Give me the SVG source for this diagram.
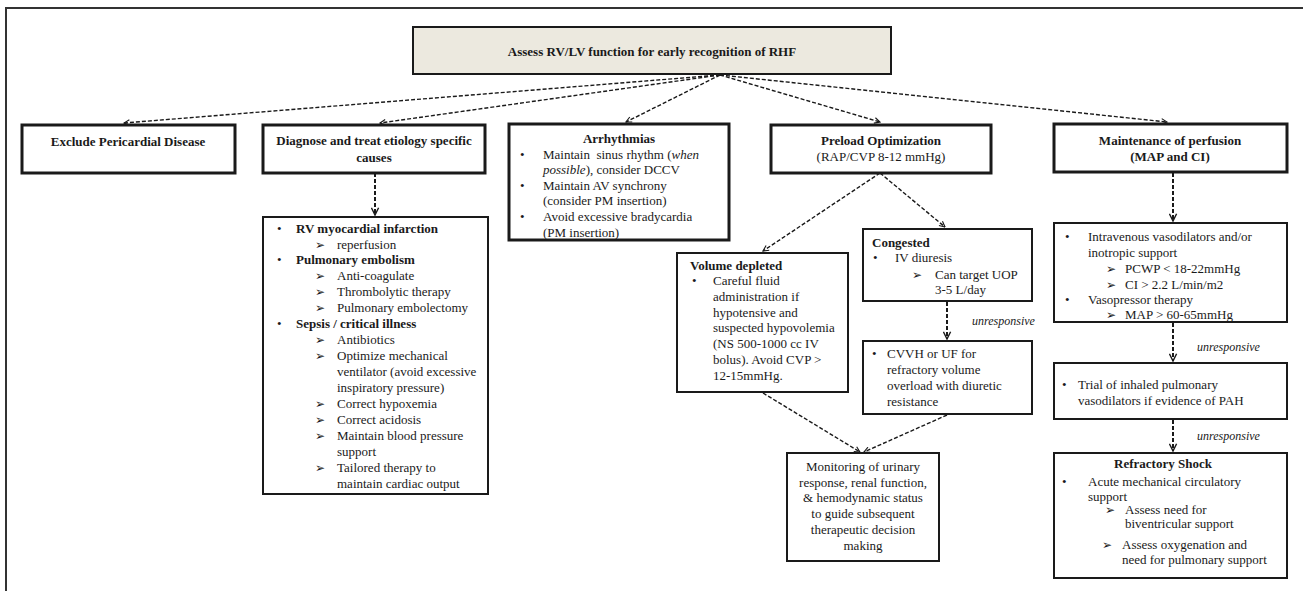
<svg xmlns="http://www.w3.org/2000/svg" width="1303" height="591" viewBox="0 0 1303 591">
  <defs>
    <marker id="chev" viewBox="0 0 10 10" refX="9" refY="5" markerWidth="7" markerHeight="7" markerUnits="userSpaceOnUse" orient="auto">
      <path d="M1,1 L9,5 L1,9" fill="none" stroke="#1a1a1a" stroke-width="1.6"/>
    </marker>
    <marker id="chevB" viewBox="0 0 10 10" refX="9" refY="5" markerWidth="9" markerHeight="9" markerUnits="userSpaceOnUse" orient="auto">
      <path d="M1,1 L9,5 L1,9" fill="none" stroke="#1a1a1a" stroke-width="1.6"/>
    </marker>
  </defs>
  <style>
    text { font-family: "Liberation Serif", "Times New Roman", serif; font-size: 13px; fill: #1a1a1a; }
    .b { font-weight: bold; }
    .i { font-style: italic; font-size: 12px; }
    .c { text-anchor: middle; }
    .ar { font-family: "DejaVu Sans", sans-serif; font-size: 12px; }
    .box { fill: #ffffff; stroke: #1a1a1a; stroke-width: 2; }
    .thick { stroke-width: 3; }
    .head { fill: #ece9df; stroke: #1a1a1a; stroke-width: 2; }
    .link { fill: none; stroke: #1a1a1a; stroke-width: 1.4; stroke-dasharray: 4 2; marker-end: url(#chev); }
    .vlink { fill: none; stroke: #1a1a1a; stroke-width: 2; stroke-dasharray: 4 2; marker-end: url(#chevB); }
    .frame { fill: none; stroke: #333; stroke-width: 2; }
  </style>

  <!-- outer frame: top and left rules -->
  <path class="frame" d="M1303,8 L6,8 L6,591"/>

  <!-- connectors -->
  <g id="connectors">
    <path class="link" d="M720,75 L124,123"/>
    <path class="link" d="M720,75 L380,123"/>
    <path class="link" d="M720,75 L626,122"/>
    <path class="link" d="M720,75 L880,122"/>
    <path class="link" d="M720,75 L1167,122"/>
    <path class="vlink" d="M375,173 L375,215"/>
    <path class="link" d="M880,173 L763,251"/>
    <path class="link" d="M880,173 L945,227"/>
    <path class="vlink" d="M947,302 L947,339"/>
    <path class="link" d="M763,393 L860,452"/>
    <path class="link" d="M947,415 L864,452"/>
    <path class="vlink" d="M1173,173 L1173,221"/>
    <path class="vlink" d="M1173,323 L1173,361"/>
    <path class="vlink" d="M1173,420 L1173,451"/>
    <text class="i" x="972" y="325">unresponsive</text>
    <text class="i" x="1197" y="351">unresponsive</text>
    <text class="i" x="1197" y="440">unresponsive</text>
  </g>

  <g id="assess">
    <rect class="head" x="413" y="27" width="478" height="47"/>
    <text class="b c" x="652" y="56">Assess RV/LV function for early recognition of RHF</text>
  </g>

  <g id="pericardial">
    <rect class="box thick" x="22" y="125" width="213" height="48"/>
    <text class="b c" x="128" y="146">Exclude Pericardial Disease</text>
  </g>

  <g id="etiology">
    <rect class="box thick" x="263" y="125" width="222" height="48"/>
    <text class="b c" x="374" y="145">Diagnose and treat etiology specific</text>
    <text class="b c" x="374" y="162">causes</text>
  </g>

  <g id="etiology-detail">
    <rect class="box" x="263" y="217" width="225" height="277"/>
    <text x="277" y="232.5">•</text><text class="b" x="296" y="232.5">RV myocardial infarction</text>
    <text class="ar" x="315" y="248.5">➢</text><text x="337" y="248.5">reperfusion</text>
    <text x="277" y="264.4">•</text><text class="b" x="296" y="264.4">Pulmonary embolism</text>
    <text class="ar" x="315" y="280.3">➢</text><text x="337" y="280.3">Anti-coagulate</text>
    <text class="ar" x="315" y="296.3">➢</text><text x="337" y="296.3">Thrombolytic therapy</text>
    <text class="ar" x="315" y="312.2">➢</text><text x="337" y="312.2">Pulmonary embolectomy</text>
    <text x="277" y="328.1">•</text><text class="b" x="296" y="328.1">Sepsis / critical illness</text>
    <text class="ar" x="315" y="344.1">➢</text><text x="337" y="344.1">Antibiotics</text>
    <text class="ar" x="315" y="360">➢</text><text x="337" y="360">Optimize mechanical</text>
    <text x="337" y="376">ventilator (avoid excessive</text>
    <text x="337" y="391.9">inspiratory pressure)</text>
    <text class="ar" x="315" y="407.8">➢</text><text x="337" y="407.8">Correct hypoxemia</text>
    <text class="ar" x="315" y="423.8">➢</text><text x="337" y="423.8">Correct acidosis</text>
    <text class="ar" x="315" y="439.7">➢</text><text x="337" y="439.7">Maintain blood pressure</text>
    <text x="337" y="455.6">support</text>
    <text class="ar" x="315" y="471.6">➢</text><text x="337" y="471.6">Tailored therapy to</text>
    <text x="337" y="487.5">maintain cardiac output</text>
  </g>

  <g id="arrhythmias">
    <rect class="box thick" x="509" y="124" width="220" height="116"/>
    <text class="b c" x="619" y="143">Arrhythmias</text>
    <text x="520" y="159">•</text><text x="543" y="159">Maintain&#160; sinus rhythm (<tspan font-style="italic">when</tspan></text>
    <text x="543" y="174"><tspan font-style="italic">possible</tspan>), consider DCCV</text>
    <text x="520" y="190">•</text><text x="543" y="190">Maintain AV synchrony</text>
    <text x="543" y="205">(consider PM insertion)</text>
    <text x="520" y="221">•</text><text x="543" y="221">Avoid excessive bradycardia</text>
    <text x="543" y="237">(PM insertion)</text>
  </g>

  <g id="preload">
    <rect class="box thick" x="771" y="125" width="220" height="48"/>
    <text class="b c" x="881" y="145">Preload Optimization</text>
    <text class="c" x="881" y="161">(RAP/CVP 8-12 mmHg)</text>
  </g>

  <g id="volume-depleted">
    <rect class="box" x="677" y="253" width="171" height="139"/>
    <text class="b" x="690" y="270">Volume depleted</text>
    <text x="692" y="285">•</text><text x="713" y="285">Careful fluid</text>
    <text x="713" y="301">administration if</text>
    <text x="713" y="317">hypotensive and</text>
    <text x="713" y="332">suspected hypovolemia</text>
    <text x="713" y="348">(NS 500-1000 cc IV</text>
    <text x="713" y="364">bolus). Avoid CVP &gt;</text>
    <text x="713" y="380">12-15mmHg.</text>
  </g>

  <g id="congested">
    <rect class="box" x="863" y="229" width="169" height="72"/>
    <text class="b" x="872" y="247">Congested</text>
    <text x="873" y="262">•</text><text x="895" y="262">IV diuresis</text>
    <text class="ar" x="912" y="279">➢</text><text x="935" y="279">Can target UOP</text>
    <text x="935" y="294">3-5 L/day</text>
  </g>

  <g id="cvvh">
    <rect class="box" x="863" y="341" width="169" height="73"/>
    <text x="872" y="358">•</text><text x="887" y="358">CVVH or UF for</text>
    <text x="887" y="374">refractory volume</text>
    <text x="887" y="390">overload with diuretic</text>
    <text x="887" y="406">resistance</text>
  </g>

  <g id="monitoring">
    <rect class="box" x="787" y="453" width="152" height="108"/>
    <text class="c" x="863" y="471">Monitoring of urinary</text>
    <text class="c" x="863" y="487">response, renal function,</text>
    <text class="c" x="863" y="502">&amp; hemodynamic status</text>
    <text class="c" x="863" y="518">to guide subsequent</text>
    <text class="c" x="863" y="534">therapeutic decision</text>
    <text class="c" x="863" y="550">making</text>
  </g>

  <g id="perfusion">
    <rect class="box thick" x="1054" y="124" width="233" height="48"/>
    <text class="b c" x="1170" y="145">Maintenance of perfusion</text>
    <text class="b c" x="1170" y="161">(MAP and CI)</text>
  </g>

  <g id="vasoactive">
    <rect class="box" x="1054" y="223" width="233" height="99"/>
    <text x="1065" y="241">•</text><text x="1088" y="241">Intravenous vasodilators and/or</text>
    <text x="1088" y="257">inotropic support</text>
    <text class="ar" x="1106" y="273">➢</text><text x="1125" y="273">PCWP &lt; 18-22mmHg</text>
    <text class="ar" x="1106" y="289">➢</text><text x="1125" y="289">CI &gt; 2.2 L/min/m2</text>
    <text x="1065" y="304">•</text><text x="1088" y="304">Vasopressor therapy</text>
    <text class="ar" x="1106" y="319">➢</text><text x="1125" y="319">MAP &gt; 60-65mmHg</text>
  </g>

  <g id="inhaled">
    <rect class="box" x="1054" y="363" width="233" height="56"/>
    <text x="1062" y="389">•</text><text x="1078" y="389">Trial of inhaled pulmonary</text>
    <text x="1078" y="405">vasodilators if evidence of PAH</text>
  </g>

  <g id="refractory">
    <rect class="box" x="1054" y="453" width="233" height="125"/>
    <text class="b c" x="1163" y="468">Refractory Shock</text>
    <text x="1062" y="486">•</text><text x="1088" y="486">Acute mechanical circulatory</text>
    <text x="1088" y="501">support</text>
    <text class="ar" x="1105" y="514">➢</text><text x="1125" y="514">Assess need for</text>
    <text x="1125" y="528">biventricular support</text>
    <text class="ar" x="1102" y="549">➢</text><text x="1122" y="549">Assess oxygenation and</text>
    <text x="1122" y="564">need for pulmonary support</text>
  </g>
</svg>
